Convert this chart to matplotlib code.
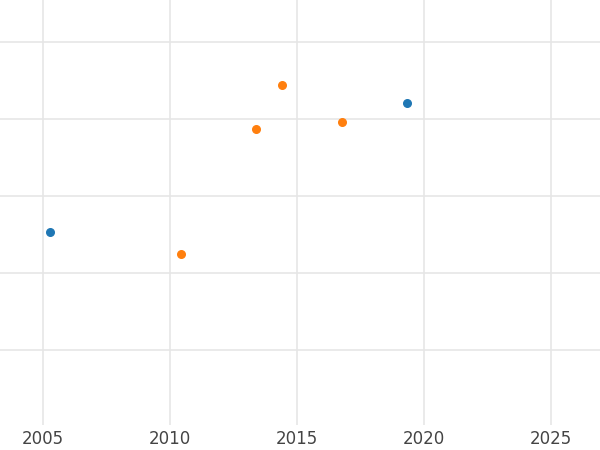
import matplotlib.pyplot as plt

blue_x = [2005.28, 2019.33]
blue_y = [1.53, 3.21]
orange_x = [2014.41, 2013.39, 2016.77, 2010.43]
orange_y = [3.44, 2.87, 2.96, 1.25]
x_ticks = [2005, 2010, 2015, 2020, 2025]
y_grid = [0, 1, 2, 3, 4]

fig = plt.figure(figsize=(6, 4.5), dpi=100)
ax = fig.add_axes([0, 0.056, 1, 0.944])
ax.scatter(blue_x, blue_y, color="#1f77b4", s=30, zorder=3)
ax.scatter(orange_x, orange_y, color="#ff7f0e", s=30, zorder=3)
ax.set_xlim(2003.31, 2026.93)
ax.set_ylim(-0.97, 4.55)
ax.set_xticks(x_ticks)
ax.set_yticks(y_grid)
ax.set_yticklabels([])
ax.tick_params(length=0, labelsize=12, labelcolor="#444444", pad=4)
ax.tick_params(axis="y", left=False, labelleft=False)
ax.grid(True, color="#e6e6e6", linewidth=1.2)
ax.set_axisbelow(True)
for s in ax.spines.values():
    s.set_visible(False)
fig.savefig("out.png", dpi=100)
